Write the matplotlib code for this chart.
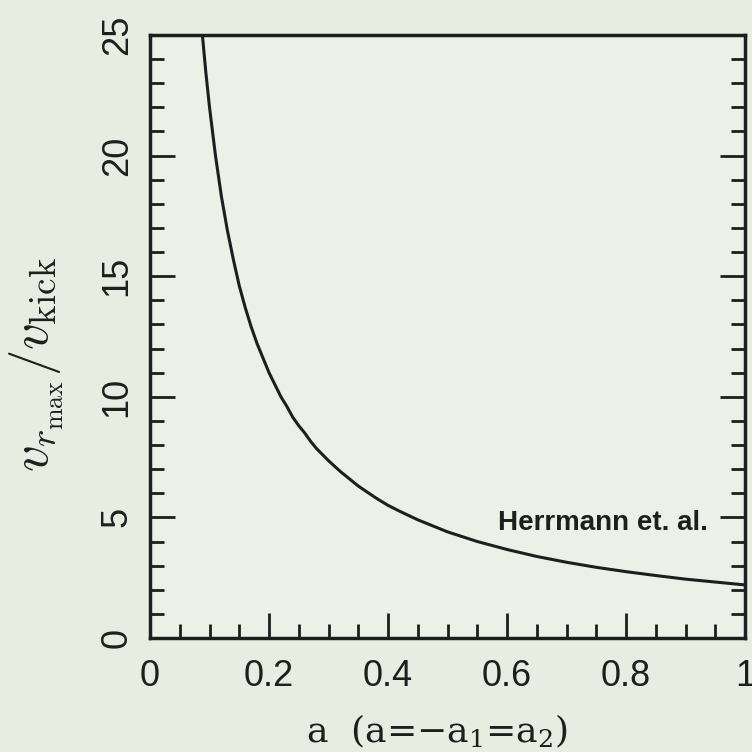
import matplotlib
matplotlib.use("Agg")
import matplotlib.pyplot as plt
from matplotlib.ticker import MultipleLocator

# values
a = [0.088, 0.094, 0.10, 0.11, 0.12, 0.13, 0.14, 0.15, 0.16, 0.17, 0.18,
     0.19, 0.20, 0.21, 0.22, 0.23, 0.24, 0.25, 0.26, 0.27, 0.28, 0.30, 0.32,
     0.35, 0.38, 0.40, 0.42, 0.45, 0.50, 0.55, 0.60, 0.65, 0.70, 0.75, 0.80,
     0.85, 0.90, 0.95, 1.00]
v_ratio = [25.0, 23.4, 22.0, 20.0, 18.3, 16.9, 15.7, 14.6, 13.7, 12.9, 12.2,
           11.6, 11.0, 10.5, 10.0, 9.6, 9.15, 8.8, 8.5, 8.15, 7.85, 7.35, 6.9,
           6.3, 5.8, 5.5, 5.25, 4.9, 4.4, 4.0, 3.67, 3.38, 3.14, 2.93, 2.75,
           2.59, 2.44, 2.32, 2.2]

xticks = [0, 0.2, 0.4, 0.6, 0.8, 1.0]
xticklabels = ["0", "0.2", "0.4", "0.6", "0.8", "1"]
yticks = [0, 5, 10, 15, 20, 25]

bg = "#e7ede0"
ink = "#1e1e1e"

plt.rcParams["mathtext.fontset"] = "cm"

fig = plt.figure(figsize=(7.52, 7.52), dpi=100, facecolor=bg)
ax = fig.add_axes([0.1995, 0.1516, 0.7912, 0.8019], facecolor="#ecf1e7")

ax.plot(a, v_ratio, color=ink, linewidth=2.2)

ax.set_xlim(0, 1)
ax.set_ylim(0, 25)
ax.set_xticks(xticks)
ax.set_xticklabels(xticklabels)
ax.set_yticks(yticks)
ax.xaxis.set_minor_locator(MultipleLocator(0.05))
ax.yaxis.set_minor_locator(MultipleLocator(1))

for s in ax.spines.values():
    s.set_linewidth(2.5)
    s.set_color(ink)

ax.tick_params(which="both", direction="in", left=True, right=True,
               bottom=True, top=False, color=ink, width=2)
ax.tick_params(which="major", length=18)
ax.tick_params(which="minor", length=10)
ax.tick_params(axis="x", pad=15)
ax.tick_params(axis="y", pad=11, labelrotation=90)
for lab in ax.get_xticklabels() + ax.get_yticklabels():
    lab.set_family("Liberation Sans")
    lab.set_fontsize(26)
    lab.set_color(ink)
for lab in ax.get_yticklabels():
    lab.set_va("center")

ax.text(0.938, 4.77, "Herrmann et. al.", ha="right", va="center",
        fontsize=20, fontweight="bold", family="Liberation Sans", color=ink)

ax.set_xlabel("a  (a=\u2212a$_1$=a$_2$)", family="DejaVu Serif", fontsize=26,
              color=ink, math_fontfamily="dejavuserif")
ax.xaxis.set_label_coords(0.483, -0.125)
ax.set_ylabel(r"$v_{r_{\rm max}}/v_{\rm kick}$", fontsize=38, color=ink)
ax.yaxis.set_label_coords(-0.143, 0.453)

plt.savefig("out.png", dpi=100, facecolor=bg)
